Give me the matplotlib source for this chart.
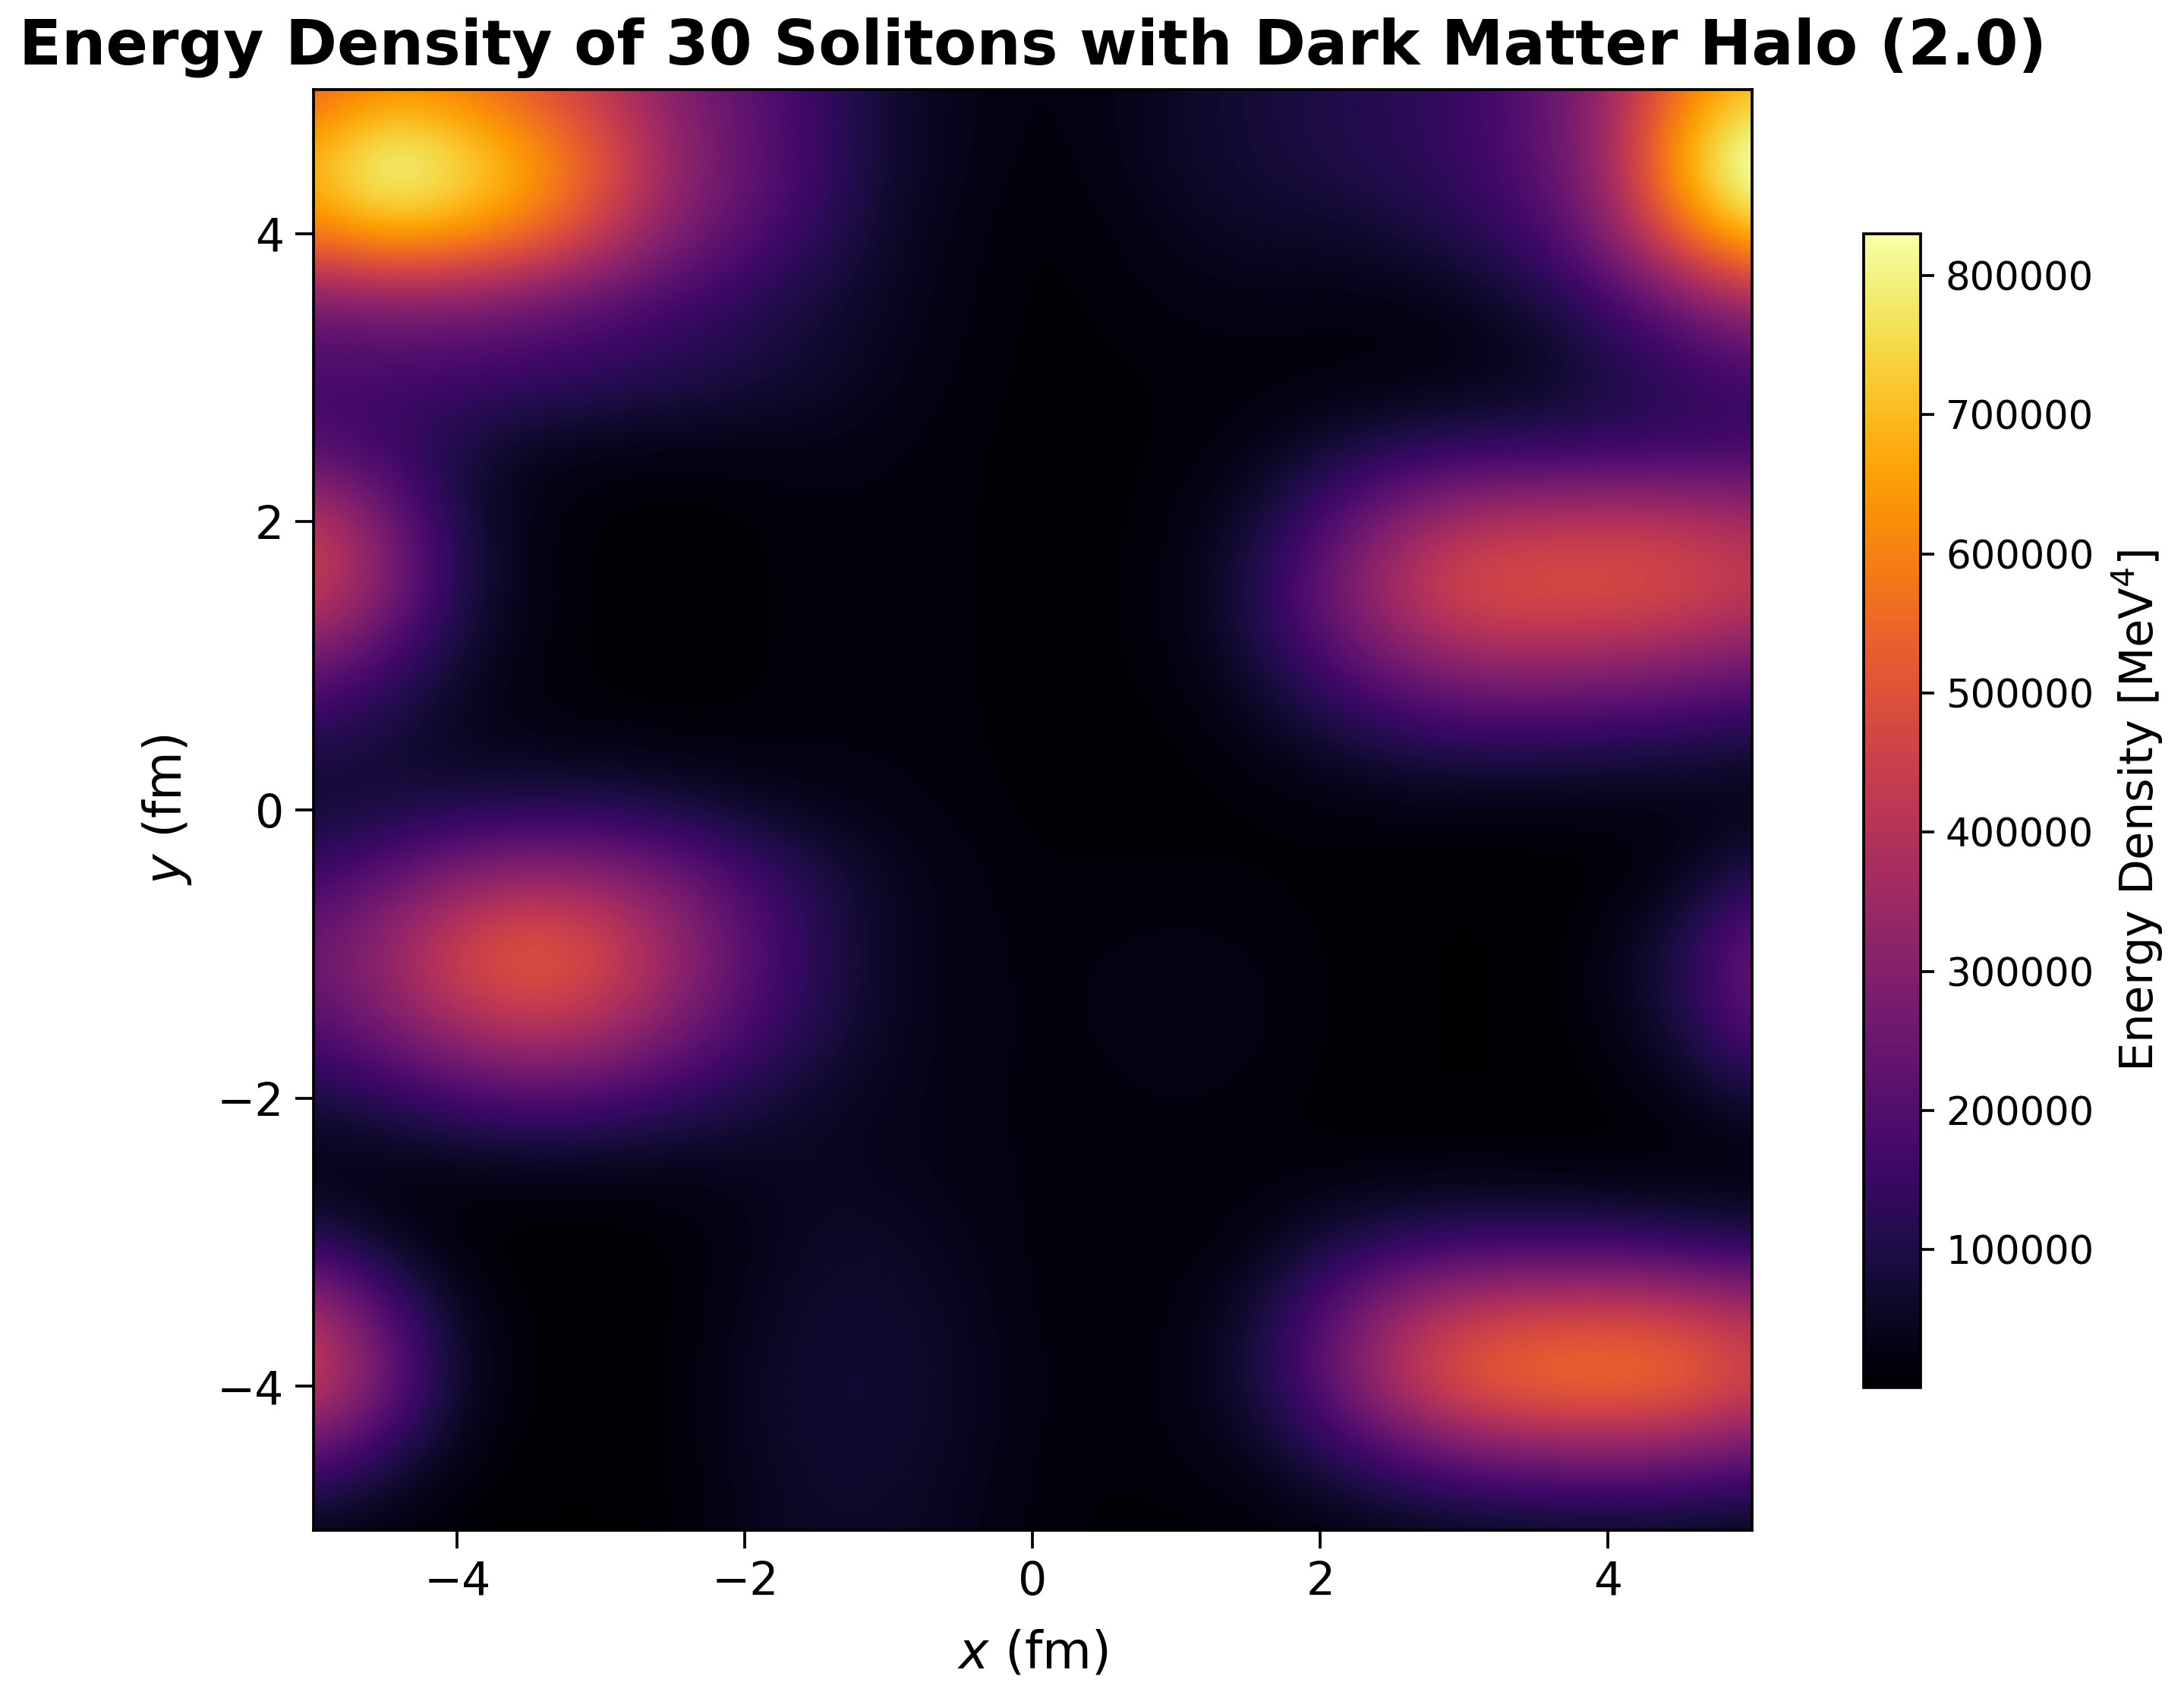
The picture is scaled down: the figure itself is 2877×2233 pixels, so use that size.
import numpy as np
import matplotlib
matplotlib.use("Agg")
import matplotlib.pyplot as plt

# energy density in units of 1000 MeV^4, read off on a 0.5 fm grid
# rows go from y = 5 down to y = -5, columns from x = -5 to x = 5
row_p50 = [530, 610, 590, 510, 420, 300, 220, 150, 70, 40, 20, 30, 60, 80, 100, 120, 150, 220, 330, 580, 700]
row_p45 = [700, 870, 790, 680, 530, 340, 240, 160, 70, 40, 15, 30, 60, 80, 100, 120, 150, 210, 350, 690, 910]
row_p40 = [610, 690, 660, 590, 450, 300, 210, 130, 60, 30, 10, 20, 40, 60, 60, 80, 110, 170, 300, 560, 730]
row_p35 = [250, 270, 270, 240, 200, 160, 120, 80, 50, 25, 10, 15, 25, 30, 25, 25, 40, 80, 150, 240, 350]
row_p30 = [170, 170, 160, 150, 130, 110, 90, 70, 40, 20, 10, 10, 15, 15, 15, 15, 25, 40, 90, 130, 160]
row_p25 = [190, 150, 90, 40, 30, 25, 30, 30, 25, 15, 10, 10, 15, 30, 70, 110, 130, 130, 130, 140, 150]
row_p20 = [440, 280, 100, 25, 10, 5, 10, 20, 20, 15, 10, 10, 20, 70, 180, 310, 390, 420, 430, 420, 380]
row_p15 = [460, 310, 110, 30, 10, 3, 10, 20, 20, 15, 10, 10, 25, 100, 240, 390, 500, 510, 510, 490, 440]
row_p10 = [250, 160, 70, 20, 10, 5, 10, 20, 20, 15, 10, 10, 20, 70, 170, 260, 320, 330, 320, 300, 260]
row_p05 = [110, 80, 40, 25, 20, 15, 15, 20, 20, 15, 10, 10, 10, 30, 70, 110, 130, 130, 120, 110, 90]
row_00 = [60, 80, 100, 110, 110, 90, 60, 40, 30, 20, 10, 10, 10, 10, 15, 20, 20, 20, 20, 20, 25]
row_m05 = [170, 240, 320, 360, 340, 280, 190, 110, 50, 30, 15, 15, 15, 15, 10, 5, 5, 5, 10, 40, 130]
row_m10 = [260, 340, 480, 550, 490, 350, 220, 120, 50, 30, 20, 25, 30, 25, 15, 5, 3, 5, 30, 110, 260]
row_m15 = [200, 280, 370, 420, 390, 290, 190, 110, 50, 30, 20, 25, 35, 30, 15, 5, 3, 5, 25, 90, 220]
row_m20 = [90, 120, 170, 190, 180, 140, 100, 60, 40, 30, 20, 20, 25, 20, 10, 5, 3, 5, 10, 30, 80]
row_m25 = [20, 20, 25, 30, 30, 30, 40, 50, 40, 30, 20, 20, 15, 15, 15, 15, 20, 15, 10, 10, 10]
row_m30 = [120, 50, 10, 5, 5, 10, 30, 60, 60, 40, 20, 15, 15, 25, 80, 120, 140, 140, 140, 120, 100]
row_m35 = [400, 210, 50, 10, 5, 10, 40, 70, 70, 50, 20, 15, 20, 70, 200, 350, 440, 470, 480, 460, 400]
row_m40 = [470, 270, 60, 10, 5, 10, 50, 75, 75, 55, 25, 15, 25, 80, 210, 400, 530, 580, 590, 570, 480]
row_m45 = [200, 110, 30, 5, 5, 10, 45, 70, 70, 50, 20, 15, 20, 40, 100, 170, 230, 260, 270, 260, 220]
row_m50 = [30, 15, 5, 3, 3, 10, 40, 60, 60, 40, 20, 10, 10, 10, 20, 30, 40, 40, 40, 40, 30]

rows = [row_p50, row_p45, row_p40, row_p35, row_p30, row_p25, row_p20, row_p15, row_p10, row_p05, row_00,
        row_m05, row_m10, row_m15, row_m20, row_m25, row_m30, row_m35, row_m40, row_m45, row_m50]
density = np.array(rows) * 1000.0

W, H = 2877, 2233
fig = plt.figure(figsize=(W / 300, H / 300), dpi=300)
ax = fig.add_axes([413 / W, 1 - 2016 / H, 1895 / W, 1898 / H])
cax = fig.add_axes([2455 / W, 1 - 1828 / H, 75 / W, 1520 / H])

# cell centres sit on the grid points, so the image runs half a cell past the axes
im = ax.imshow(density, cmap="inferno", extent=[-5.25, 5.25, -5.25, 5.25], origin="upper",
               interpolation="bicubic", vmin=1000, vmax=830000, aspect="auto")
ax.set_xlim(-5, 5)
ax.set_ylim(-5, 5)
ax.set_xticks([-4, -2, 0, 2, 4])
ax.set_yticks([-4, -2, 0, 2, 4])
ax.tick_params(labelsize=14.4, width=0.9, length=5.8)
for s in ax.spines.values():
    s.set_linewidth(0.9)
ax.set_xlabel(r"$x$ (fm)", fontsize=16, labelpad=7.5)
ax.set_ylabel(r"$y$ (fm)", fontsize=16, labelpad=7.5)
fig.text(0.4729, 0.9718, "Energy Density of 30 Solitons with Dark Matter Halo (2.0)",
         fontsize=19.7, fontweight="bold", ha="center", va="center")

cb = fig.colorbar(im, cax=cax)
cb.set_ticks(np.arange(100000, 900000, 100000))
cb.ax.tick_params(labelsize=12.3, width=0.9, length=4.4)
cb.outline.set_linewidth(0.9)
cb.set_label(r"Energy Density [MeV$^4$]", fontsize=14.6, labelpad=5.5)

fig.savefig("out.png", dpi=300)
